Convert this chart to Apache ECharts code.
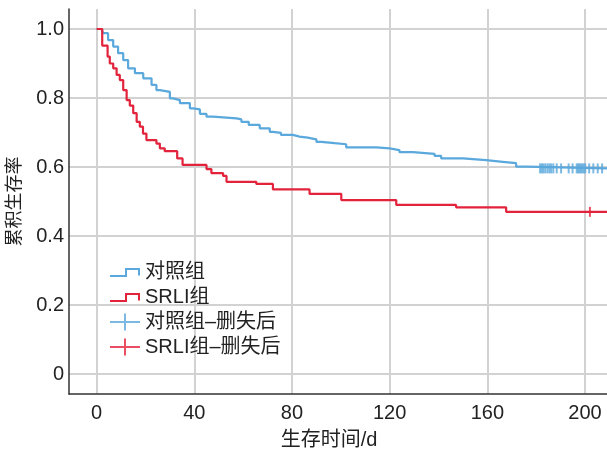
<!DOCTYPE html>
<html><head><meta charset="utf-8">
<script src="https://cdn.jsdelivr.net/npm/echarts@6/dist/echarts.min.js"></script>
<style>html,body{margin:0;padding:0;background:#fff}#c{width:607px;height:456px}</style>
</head><body><div id="c"></div>
<script>
// Kaplan-Meier step data (time in days, cumulative survival)
const ctrlTime = [0,2.0,2.7,4.7,6.8,8.8,10.9,12.9,15.7,19.1,22.5,24.5,25.9,30,31.3,34.1,38.2,39.5,42.3,45,47.7,57.3,59.3,62.3,66.8,70.9,72.2,75.5,80.4,83.1,86.5,87.9,90,92,97.5,102.2,114.5,120,124,129.5,138.4,141.1,150,159.5,166.3,171.8,175.9,209];
const ctrlSurv = [1,0.995,0.988,0.968,0.949,0.930,0.910,0.886,0.872,0.857,0.838,0.823,0.818,0.799,0.794,0.785,0.770,0.767,0.754,0.746,0.741,0.738,0.731,0.722,0.712,0.702,0.699,0.693,0.688,0.685,0.683,0.680,0.673,0.669,0.666,0.657,0.654,0.649,0.643,0.638,0.632,0.625,0.620,0.615,0.611,0.601,0.596,0.596];
const srliTime = [0,2.3,4.5,5.4,6.8,8.2,9.5,10.9,12.3,13.6,15,16.4,17.7,19,20.4,24.5,25.9,27.9,33,35.2,45,47,51.8,53.2,65.4,72.2,87.2,100.2,122.7,147.2,167.7,209];
const srliSurv = [1,0.952,0.920,0.900,0.886,0.867,0.852,0.823,0.794,0.778,0.756,0.731,0.717,0.697,0.678,0.668,0.654,0.646,0.625,0.606,0.594,0.582,0.574,0.557,0.551,0.535,0.522,0.504,0.490,0.483,0.470,0.470];
// censored observations
const ctrlCensorTime = [181.6,182.3,182.9,183.7,184.6,185.4,186.1,187.0,188.4,190.2,193.3,194.9,196.6,197.2,197.7,198.3,198.9,199.5,200.1,201.7,203.4,205.2,207.0];
const ctrlCensorSurv = 0.596;
const srliCensorTime = [202];
const srliCensorSurv = 0.470;
// axes
const xTicks = [0,40,80,120,160,200];
const yTicks = [0,0.2,0.4,0.6,0.8,1.0];
const names = ['对照组','SRLI组','对照组–删失后','SRLI组–删失后'];

const BLUE = '#5aa8dc', RED = '#e2233b';
const FONT = "'Liberation Sans','Noto Sans CJK SC',sans-serif";
const zip = (a,b)=>a.map((v,i)=>[v, Array.isArray(b)?b[i]:b]);

const tiny = 'M0 0 L0.01 0 L0.01 0.01 Z M30 17 L29.99 17 L29.99 16.99 Z ';
const stepIcon = 'path://' + tiny + 'M0 11.5 L15 11.5 L15 4.5 L30 4.5 L30 12 L28 12 L28 6.5 L17 6.5 L17 13.5 L0 13.5 Z';
const plusIcon = 'path://' + tiny + 'M0 7.5 L14 7.5 L14 0 L16 0 L16 7.5 L30 7.5 L30 9.5 L16 9.5 L16 17 L14 17 L14 9.5 L0 9.5 Z';

const chart = echarts.init(document.getElementById('c'), null, {renderer:'canvas'});
chart.setOption({
  animation:false,
  textStyle:{fontFamily:FONT},
  grid:{left:69,right:0,top:9,bottom:62,containLabel:false,outerBoundsMode:'none'},
  legend:{
    orient:'vertical', left:105, top:257, itemWidth:30, itemHeight:17, itemGap:5,
    textStyle:{fontFamily:FONT,fontSize:20,color:'#222',lineHeight:20},
    itemStyle:{borderWidth:0},
    data:[
      {name:names[0],icon:stepIcon,itemStyle:{color:BLUE}},
      {name:names[1],icon:stepIcon,itemStyle:{color:RED}},
      {name:names[2],icon:plusIcon,itemStyle:{color:BLUE}},
      {name:names[3],icon:plusIcon,itemStyle:{color:RED}}
    ]
  },
  xAxis:{
    type:'value', min:-11.3, max:209,
    name:'生存时间/d', nameLocation:'middle', nameGap:36,
    nameTextStyle:{fontFamily:FONT,fontSize:20,color:'#222',padding:[0,18,0,0]},
    axisLine:{show:true,onZero:false,lineStyle:{color:'#333',width:1.5}},
    axisTick:{show:false,customValues:xTicks},
    axisLabel:{customValues:xTicks,fontSize:20,color:'#222',margin:9,fontFamily:FONT},
    splitLine:{show:true,lineStyle:{color:'#d2d2d2',width:2}}
  },
  yAxis:{
    type:'value', min:-0.058, max:1.058,
    name:'累积生存率', nameLocation:'middle', nameGap:45, nameRotate:90,
    nameTextStyle:{fontFamily:FONT,fontSize:18,color:'#222'},
    axisLine:{show:true,onZero:false,lineStyle:{color:'#333',width:1.5}},
    axisTick:{show:false,customValues:yTicks},
    axisLabel:{customValues:yTicks,fontSize:20,color:'#222',margin:5,fontFamily:FONT,
      formatter:v=>v===0?'0':v.toFixed(1)},
    splitLine:{show:true,lineStyle:{color:'#d2d2d2',width:2}}
  },
  series:[
    {name:names[0],type:'line',step:'end',showSymbol:false,data:zip(ctrlTime,ctrlSurv),
     lineStyle:{color:BLUE,width:2.2},itemStyle:{color:BLUE},z:3},
    {name:names[1],type:'line',step:'end',showSymbol:false,data:zip(srliTime,srliSurv),
     lineStyle:{color:RED,width:2.2},itemStyle:{color:RED},z:4},
    {name:names[2],type:'scatter',symbol:'rect',symbolSize:[2,10],data:zip(ctrlCensorTime,ctrlCensorSurv),
     itemStyle:{color:BLUE},z:5},
    {name:names[3],type:'scatter',symbol:'rect',symbolSize:[2,10],data:zip(srliCensorTime,srliCensorSurv),
     itemStyle:{color:RED},z:5}
  ]
});
</script></body></html>
